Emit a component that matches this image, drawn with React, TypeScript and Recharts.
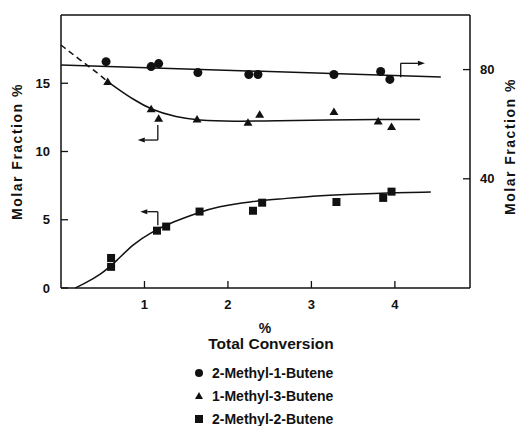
import React from "react";
import { ComposedChart, Line, Scatter, XAxis, YAxis, ReferenceLine, Label } from "recharts";

// measured points (x = % total conversion)
const circleX = [0.54, 1.08, 1.17, 1.64, 2.25, 2.36, 3.27, 3.83, 3.94];
const circleY = [82.9, 81.1, 82.2, 78.9, 78.2, 78.2, 78.2, 79.3, 76.4]; // right axis
const triX = [0.56, 1.08, 1.17, 1.63, 2.24, 2.38, 3.27, 3.8, 3.96];
const triY = [15.1, 13.1, 12.4, 12.35, 12.1, 12.7, 12.9, 12.2, 11.8];
const sqX = [0.6, 0.6, 1.15, 1.26, 1.66, 2.3, 2.41, 3.3, 3.86, 3.96];
const sqY = [2.2, 1.55, 4.2, 4.5, 5.6, 5.66, 6.25, 6.3, 6.6, 7.06];

// hand drawn fit curves
const circleFitX = [0, 4.55];
const circleFitY = [81.7, 77.3];
const triDashX = [0, 0.23, 0.47, 0.56];
const triDashY = [17.8, 16.7, 15.6, 15.1];
const triFitX = [0.56, 0.75, 0.86, 1.08, 1.39, 1.63, 2.06, 2.6, 3.2, 3.8, 4.3];
const triFitY = [15.1, 14.3, 13.85, 13.05, 12.5, 12.3, 12.2, 12.25, 12.3, 12.35, 12.35];
const sqFitX = [0.17, 0.27, 0.47, 0.67, 0.86, 1.07, 1.34, 1.66, 1.87, 2.28, 2.6, 3.0, 3.5, 3.9, 4.43];
const sqFitY = [0, 0.3, 0.95, 2.0, 3.2, 4.05, 4.85, 5.55, 5.95, 6.35, 6.5, 6.75, 6.88, 6.96, 7.03];

const xTicks = [1, 2, 3, 4];
const leftTicks = [0, 5, 10, 15];
const rightTicks = [40, 80];

const legendItems = ["2-Methyl-1-Butene", "1-Methyl-3-Butene", "2-Methyl-2-Butene"];

const zip = (xs: number[], ys: number[]) => xs.map((x, i) => ({ x, y: ys[i] }));

const INK = "#111";
const FONT = "'Liberation Sans', Arial, sans-serif";
const tickText = { fontSize: 13, fontWeight: 700, fill: INK, fontFamily: FONT };

// ticks drawn inward, labels outside
const LeftTick = (p: any) => (
  <g>
    <line x1={p.x + 11} y1={p.y} x2={p.x + 18} y2={p.y} stroke={INK} strokeWidth={1.3} />
    <text x={p.x} y={p.y} textAnchor="end" dominantBaseline="central" {...tickText}>{p.payload.value}</text>
  </g>
);
const RightTick = (p: any) => (
  <g>
    <line x1={p.x - 10} y1={p.y} x2={p.x - 17} y2={p.y} stroke={INK} strokeWidth={1.3} />
    <text x={p.x} y={p.y} textAnchor="start" dominantBaseline="central" {...tickText}>{p.payload.value}</text>
  </g>
);
const BottomTick = (p: any) => (
  <g>
    <line x1={p.x} y1={p.y - 10} x2={p.x} y2={p.y - 17} stroke={INK} strokeWidth={1.3} />
    <text x={p.x} y={p.y + 6} textAnchor="middle" dominantBaseline="central" {...tickText}>{p.payload.value}</text>
  </g>
);

const CircleMark = (p: any) => <circle cx={p.cx} cy={p.cy} r={4.5} fill={INK} />;
const TriMark = (p: any) => (
  <polygon points={`${p.cx},${p.cy - 4.5} ${p.cx + 4.5},${p.cy + 3} ${p.cx - 4.5},${p.cy + 3}`} fill={INK} />
);
const SqMark = (p: any) => <rect x={p.cx - 4} y={p.cy - 4} width={8} height={8} fill={INK} />;

const arrowShape = (head: boolean) => (p: any) => {
  const { x1, y1, x2, y2 } = p;
  const dx = x2 - x1;
  const dy = y2 - y1;
  const len = Math.sqrt(dx * dx + dy * dy) || 1;
  const ux = dx / len;
  const uy = dy / len;
  const bx = x2 - ux * 7;
  const by = y2 - uy * 7;
  return (
    <g>
      <line x1={x1} y1={y1} x2={head ? bx : x2} y2={head ? by : y2} stroke={INK} strokeWidth={1.3} />
      {head && (
        <polygon
          points={`${x2},${y2} ${bx - uy * 2.5},${by + ux * 2.5} ${bx + uy * 2.5},${by - ux * 2.5}`}
          fill={INK}
        />
      )}
    </g>
  );
};

const labelStyle = { fontSize: 14, fontWeight: 700, fill: INK, fontFamily: FONT, letterSpacing: 1.5 };

export default function App() {
  return (
    <div style={{ position: "absolute", top: 0, left: 0, width: 518, height: 426, background: "#fff", fontFamily: FONT }}>
      <ComposedChart width={518} height={426} margin={{ top: 15, right: 0, bottom: 108, left: 0 }}>
        <XAxis
          type="number"
          dataKey="x"
          domain={[0, 4.9]}
          ticks={xTicks}
          height={30}
          tickSize={0}
          tickMargin={10}
          tick={BottomTick}
          tickLine={false}
          axisLine={{ stroke: INK, strokeWidth: 1.5 }}
        />
        <YAxis
          yAxisId="left"
          type="number"
          dataKey="y"
          domain={[0, 20]}
          ticks={leftTicks}
          width={61}
          tickSize={0}
          tickMargin={11}
          tick={LeftTick}
          tickLine={false}
          axisLine={{ stroke: INK, strokeWidth: 1.5 }}
        >
          <Label value="Molar Fraction %" angle={-90} position="center" dx={-13} style={labelStyle} />
        </YAxis>
        <YAxis
          yAxisId="right"
          orientation="right"
          type="number"
          dataKey="y"
          domain={[0, 100]}
          ticks={rightTicks}
          width={48}
          tickSize={0}
          tickMargin={10}
          tick={RightTick}
          tickLine={false}
          axisLine={{ stroke: INK, strokeWidth: 1.5 }}
        >
          <Label value="Molar Fraction %" angle={-90} position="center" dx={16} dy={-5} style={labelStyle} />
        </YAxis>

        {/* top frame */}
        <ReferenceLine yAxisId="left" y={20} stroke={INK} strokeWidth={1.5} />

        <Line yAxisId="right" data={zip(circleFitX, circleFitY)} dataKey="y" type="linear" stroke={INK} strokeWidth={1.5} dot={false} isAnimationActive={false} />
        <Line yAxisId="left" data={zip(triDashX, triDashY)} dataKey="y" type="basis" stroke={INK} strokeWidth={1.5} strokeDasharray="6 4" dot={false} isAnimationActive={false} />
        <Line yAxisId="left" data={zip(triFitX, triFitY)} dataKey="y" type="basis" stroke={INK} strokeWidth={1.5} dot={false} isAnimationActive={false} />
        <Line yAxisId="left" data={zip(sqFitX, sqFitY)} dataKey="y" type="basis" stroke={INK} strokeWidth={1.5} dot={false} isAnimationActive={false} />

        <Scatter yAxisId="right" name={legendItems[0]} data={zip(circleX, circleY)} shape={CircleMark} isAnimationActive={false} />
        <Scatter yAxisId="left" name={legendItems[1]} data={zip(triX, triY)} shape={TriMark} isAnimationActive={false} />
        <Scatter yAxisId="left" name={legendItems[2]} data={zip(sqX, sqY)} shape={SqMark} isAnimationActive={false} />

        {/* axis pointers */}
        <ReferenceLine yAxisId="right" segment={[{ x: 4.07, y: 77.2 }, { x: 4.07, y: 82.3 }]} shape={arrowShape(false)} />
        <ReferenceLine yAxisId="right" segment={[{ x: 4.07, y: 82.3 }, { x: 4.36, y: 82.3 }]} shape={arrowShape(true)} />
        <ReferenceLine yAxisId="left" segment={[{ x: 1.16, y: 11.94 }, { x: 1.16, y: 10.84 }]} shape={arrowShape(false)} />
        <ReferenceLine yAxisId="left" segment={[{ x: 1.16, y: 10.84 }, { x: 0.92, y: 10.84 }]} shape={arrowShape(true)} />
        <ReferenceLine yAxisId="left" segment={[{ x: 1.16, y: 4.6 }, { x: 1.16, y: 5.59 }]} shape={arrowShape(false)} />
        <ReferenceLine yAxisId="left" segment={[{ x: 1.16, y: 5.59 }, { x: 0.95, y: 5.59 }]} shape={arrowShape(true)} />
      </ComposedChart>

      {/* x axis title */}
      <div style={{ position: "absolute", left: 0, width: 530, top: 319, textAlign: "center", fontSize: 14, fontWeight: 700, color: INK, lineHeight: "18px" }}>%</div>
      <div style={{ position: "absolute", left: 0, width: 542, top: 334, textAlign: "center", fontSize: 15.5, fontWeight: 700, color: INK, lineHeight: "20px" }}>Total Conversion</div>

      {/* legend */}
      {legendItems.map((name, i) => (
        <div key={name} style={{ position: "absolute", left: 192, top: 363 + i * 23, height: 20, display: "flex", alignItems: "center", fontSize: 14, fontWeight: 700, color: INK }}>
          <svg width={14} height={14} style={{ marginRight: 6 }}>
            {i === 0 && <circle cx={7} cy={7} r={4} fill={INK} />}
            {i === 1 && <polygon points="7,3 11,10 3,10" fill={INK} />}
            {i === 2 && <rect x={3} y={3} width={8} height={8} fill={INK} />}
          </svg>
          {name}
        </div>
      ))}
    </div>
  );
}
